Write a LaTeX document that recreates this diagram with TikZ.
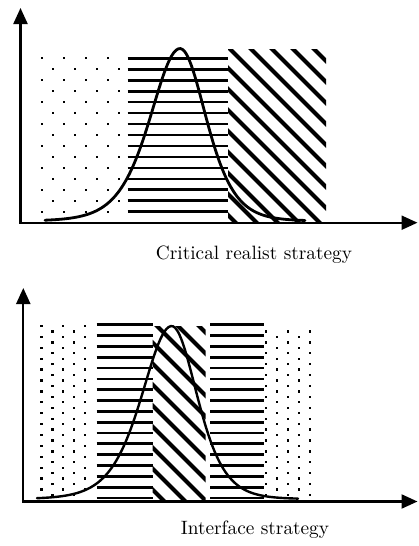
\documentclass[tikz,border=0pt]{standalone}
\usepackage{fontspec}
\newfontfamily\capfont{lmroman10-regular}[Extension=.otf]
\usetikzlibrary{arrows.meta}
\tikzset{
  axisline/.style={line width=2.2pt,-{Triangle[length=16pt,width=14pt]}},
  hline/.style={line width=2.7pt},
  stripe/.style={line width=4pt},
  dotmark/.style={fill=black},
  bellcurve/.style={line width=2.8pt,line join=round,line cap=round},
  caption/.style={anchor=base,inner sep=0pt,font=\capfont\fontsize{19.3}{22}\selectfont}
}
\begin{document}
\begin{tikzpicture}[x=1pt,y=-1pt]
\useasboundingbox (0,0) rectangle (418,546);
% ================= TOP PANEL =================
% dotted region
\foreach \r in {0,...,14}{
  \pgfmathsetmacro{\yy}{58+11*\r}
  \pgfmathsetmacro{\xo}{ifthenelse(mod(\r,2)==0,41.7,52.7)}
  \foreach \c in {0,...,3}{
    \fill[dotmark] ({\xo+22*\c-1.15},{\yy-1.15}) rectangle ++(2.3,2.3);
  }
}
% horizontal lines
\foreach \k in {0,...,14}{
  \draw[hline] (127.7,{58.3+10.96*\k}) -- (227.7,{58.3+10.96*\k});
}
% diagonal stripes
\begin{scope}
  \clip (228,49) rectangle (326,222.7);
  \foreach \k in {-9,...,5}{
    \draw[stripe] ({228+21*\k},47) -- ++(210,210);
  }
\end{scope}
% curve
\draw[bellcurve] plot[domain=45:305,samples=120,smooth]
  (\x,{221-172.5/(cosh((\x-180)/ifthenelse(\x<180,40,35)))^2});
% axes
\coordinate (o1) at (20.5,222.7);
\coordinate (ytop1) at (20.5,8);
\coordinate (xend1) at (417.5,222.7);
\draw[axisline] ([yshift=-1.1pt]o1) -- (ytop1);
\draw[axisline] ([xshift=-1.1pt]o1) -- (xend1);
\node[caption] (cap1) at (254,259) {Critical realist strategy};
% ================= BOTTOM PANEL =================
% left dots
\foreach \r in {0,...,31}{
  \pgfmathsetmacro{\yy}{326+5.45*\r}
  \ifodd\r
    \foreach \xx in {52.5,74.3}{\fill[dotmark] ({\xx-1.15},{\yy-1.15}) rectangle ++(2.3,2.3);}
  \else
    \foreach \xx in {41.5,63.3,85}{\fill[dotmark] ({\xx-1.15},{\yy-1.15}) rectangle ++(2.3,2.3);}
  \fi
}
% right dots
\foreach \r in {1,...,31}{
  \pgfmathsetmacro{\yy}{326+5.45*\r}
  \ifodd\r
    \foreach \xx in {265.7,287.7,310}{\fill[dotmark] ({\xx-1.15},{\yy-1.15}) rectangle ++(2.3,2.3);}
  \else
    \foreach \xx in {276.7,298.7}{\fill[dotmark] ({\xx-1.15},{\yy-1.15}) rectangle ++(2.3,2.3);}
  \fi
}
% horizontal lines
\foreach \k in {0,...,16}{
  \draw[hline] (96.7,{324.7+10.83*\k}) -- (152.7,{324.7+10.83*\k});
  \draw[hline] (210,{324.7+10.83*\k}) -- (263.5,{324.7+10.83*\k});
}
% diagonal stripes
\begin{scope}
  \clip (152.7,326) rectangle (205.7,501.5);
  \foreach \k in {-9,...,3}{
    \draw[stripe] ({155+21*\k},324) -- ++(210,210);
  }
\end{scope}
% curve
\draw[bellcurve,line width=2.4pt] plot[domain=37:298,samples=120,smooth]
  (\x,{499-173/(cosh((\x-171.7)/ifthenelse(\x<171.7,40,34)))^2});
% axes
\coordinate (o2) at (23.3,501.5);
\coordinate (ytop2) at (23.3,288);
\coordinate (xend2) at (417.5,501.5);
\draw[axisline] ([yshift=-1.1pt]o2) -- (ytop2);
\draw[axisline] ([xshift=-1.1pt]o2) -- (xend2);
\node[caption] (cap2) at (255,534) {Interface strategy};
\end{tikzpicture}
\end{document}
